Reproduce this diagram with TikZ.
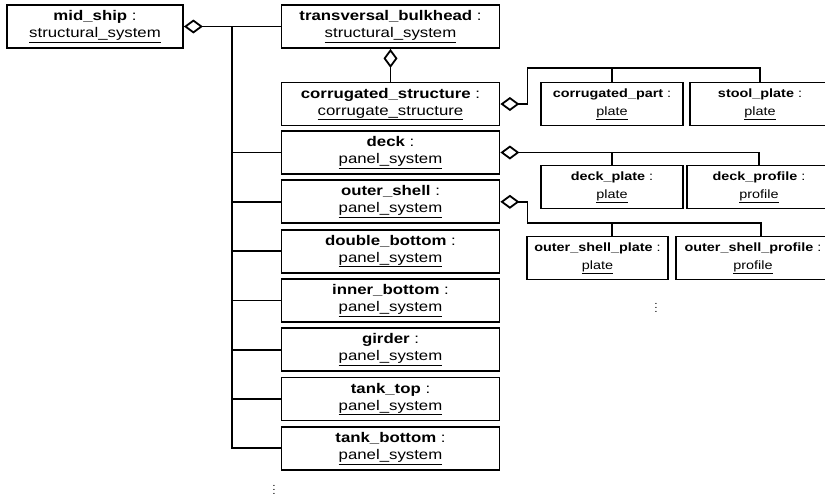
\documentclass[tikz,border=0pt]{standalone}
\usepackage{fontspec}
\setmainfont[FakeStretch=1.2]{Liberation Sans}
\usetikzlibrary{positioning, arrows.meta}

\tikzset{
  obj/.style={draw, line width=1.8pt, minimum height=43pt, inner sep=0pt, align=center, font=\fontsize{14}{17}\selectfont},
  part/.style={obj, font=\fontsize{12}{18}\selectfont},
  agg/.style={{Diamond[open, length=19pt, width=14pt]}-},
}
\newcommand{\objlabel}[2]{\textbf{#1} :\\\underline{#2}}

\begin{document}
\begin{tikzpicture}[x=1pt, y=1pt, line width=1.8pt]
            \clip (0,0) rectangle (825,-499);
            \node[obj, minimum width=176pt] (0) at (95, -26.5) {\objlabel{mid\_ship}{structural\_system}};
            \node[obj, minimum width=218pt] (1) at (390.5, -26.5) {\objlabel{transversal\_bulkhead}{structural\_system}};
            \node[obj, minimum width=218pt] (2) at (390.5, -104) {\objlabel{corrugated\_structure}{corrugate\_structure}};
            \node[obj, minimum width=218pt] (3) at (390.5, -152.5) {\objlabel{deck}{panel\_system}};
            \node[obj, minimum width=218pt, below=4.5pt of 3] (4) {\objlabel{outer\_shell}{panel\_system}};
            \node[obj, minimum width=218pt, below=4.5pt of 4] (5) {\objlabel{double\_bottom}{panel\_system}};
            \node[obj, minimum width=218pt, below=4.5pt of 5] (6) {\objlabel{inner\_bottom}{panel\_system}};
            \node[obj, minimum width=218pt, below=4.5pt of 6] (7) {\objlabel{girder}{panel\_system}};
            \node[obj, minimum width=218pt, below=4.5pt of 7] (8) {\objlabel{tank\_top}{panel\_system}};
            \node[obj, minimum width=218pt, below=4.5pt of 8] (9) {\objlabel{tank\_bottom}{panel\_system}};
            \node (10) at (274, -487) {$\vdots$};
            \node[part, minimum width=142pt] (11) at (612, -104) {\objlabel{corrugated\_part}{plate}};
            \node[part, minimum width=140pt] (12) at (760, -104) {\objlabel{stool\_plate}{plate}};
            \node[part, minimum width=142pt] (13) at (612, -187) {\objlabel{deck\_plate}{plate}};
            \node[part, minimum width=144pt] (14) at (759, -187) {\objlabel{deck\_profile}{profile}};
            \node[part, minimum width=141pt] (15) at (597.5, -258) {\objlabel{outer\_shell\_plate}{plate}};
            \node[part, minimum width=154pt] (16) at (753, -258) {\objlabel{outer\_shell\_profile}{profile}};
            \node (17) at (656, -305) {$\vdots$};
            \coordinate (t) at (232, -26.5);
            \draw[agg] (0.east) -- (0.east -| 1.west);
            \draw (t) |- (9.west);
            \foreach \n in {3,...,8}
                \draw (t |- \n.west) -- (\n.west);
            \draw[agg] (1) -- (2);
            \draw[agg] (2.east) -- ++(27,0) |- ([yshift=14pt]12.north) -- (12.north);
            \draw (11.north) -- ++(0,14);
            \draw[agg] (3.east) -| (14.north);
            \draw (13.north) -- (13.north |- 3.east);
            \draw[agg] (4.east) -- ++(27,0) |- ([yshift=13pt,xshift=8pt]16.north) -- ([xshift=8pt]16.north);
            \draw (15.north -| 13.north) -- ++(0,13);
        \end{tikzpicture}
\end{document}
